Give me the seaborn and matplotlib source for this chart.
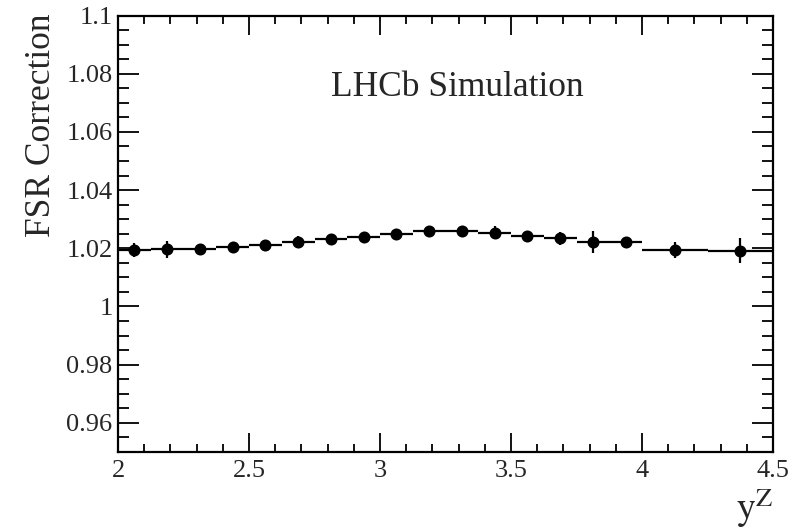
import numpy as np
import pandas as pd
import matplotlib
matplotlib.use("Agg")
import matplotlib.pyplot as plt
import seaborn as sns
from matplotlib.ticker import MultipleLocator

bin_lo = [2.0, 2.125, 2.25, 2.375, 2.5, 2.625, 2.75, 2.875, 3.0, 3.125, 3.25,
          3.375, 3.5, 3.625, 3.75, 3.875, 4.0, 4.25]
bin_hi = [2.125, 2.25, 2.375, 2.5, 2.625, 2.75, 2.875, 3.0, 3.125, 3.25, 3.375,
          3.5, 3.625, 3.75, 3.875, 4.0, 4.25, 4.5]
fsr = [1.0195, 1.0196, 1.0198, 1.0205, 1.0213, 1.0223, 1.0233, 1.0240, 1.0250,
       1.0260, 1.0260, 1.0254, 1.0243, 1.0234, 1.0223, 1.0222, 1.0195, 1.0192]
fsr_err = [0.0024, 0.0029, 0.0015, 0.0015, 0.0015, 0.0019, 0.0015, 0.0015, 0.0015,
           0.0015, 0.0015, 0.0023, 0.0015, 0.0023, 0.0038, 0.0015, 0.0027, 0.0042]

df = pd.DataFrame({"lo": bin_lo, "hi": bin_hi, "y": fsr, "err": fsr_err})
df["x"] = (df["lo"] + df["hi"]) / 2
df["xerr"] = (df["hi"] - df["lo"]) / 2

sns.set_theme(style="ticks")
plt.rcParams["font.family"] = ["Liberation Serif", "DejaVu Serif"]
plt.rcParams["mathtext.fontset"] = "stix"

fig = plt.figure(figsize=(8.04, 5.31), dpi=100)
ax = fig.add_axes([0.1468, 0.1488, 0.8147, 0.822])

ax.errorbar(df["x"], df["y"], xerr=df["xerr"], yerr=df["err"], fmt="none",
            ecolor="black", elinewidth=1.6, capsize=0)
sns.scatterplot(data=df, x="x", y="y", ax=ax, color="black", s=75,
                edgecolor="black", linewidth=0, zorder=3)

ax.set_xlim(2, 4.5)
ax.set_ylim(0.95, 1.1)
ax.xaxis.set_minor_locator(MultipleLocator(0.1))
ax.yaxis.set_minor_locator(MultipleLocator(0.005))
ax.set_xticks([2, 2.5, 3, 3.5, 4, 4.5])
ax.set_xticklabels(["2", "2.5", "3", "3.5", "4", "4.5"])
ax.set_yticks([0.96, 0.98, 1.0, 1.02, 1.04, 1.06, 1.08, 1.1])
ax.set_yticklabels(["0.96", "0.98", "1", "1.02", "1.04", "1.06", "1.08", "1.1"])
ax.tick_params(which="both", direction="in", top=True, right=True,
               labelsize=19, color="black", width=1.3)
ax.tick_params(axis="y", which="major", length=15, pad=4)
ax.tick_params(axis="y", which="minor", length=8)
ax.tick_params(axis="x", which="major", length=14, pad=6)
ax.tick_params(axis="x", which="minor", length=6)
for s in ax.spines.values():
    s.set_linewidth(1.6)
    s.set_color("black")

ax.set_xlabel("")
ax.set_ylabel("")
fig.text(0.051, 0.9755, "FSR Correction", rotation=90, ha="center", va="top",
         fontsize=25.5)
fig.text(0.9614, 0.002, r"$\mathrm{y}^{\mathrm{Z}}$", ha="right", va="bottom",
         fontsize=27)
fig.text(457.5 / 804, 1 - 88 / 531, "LHCb Simulation", ha="center",
         va="center", fontsize=25.5)

fig.savefig("out.png", dpi=100)
